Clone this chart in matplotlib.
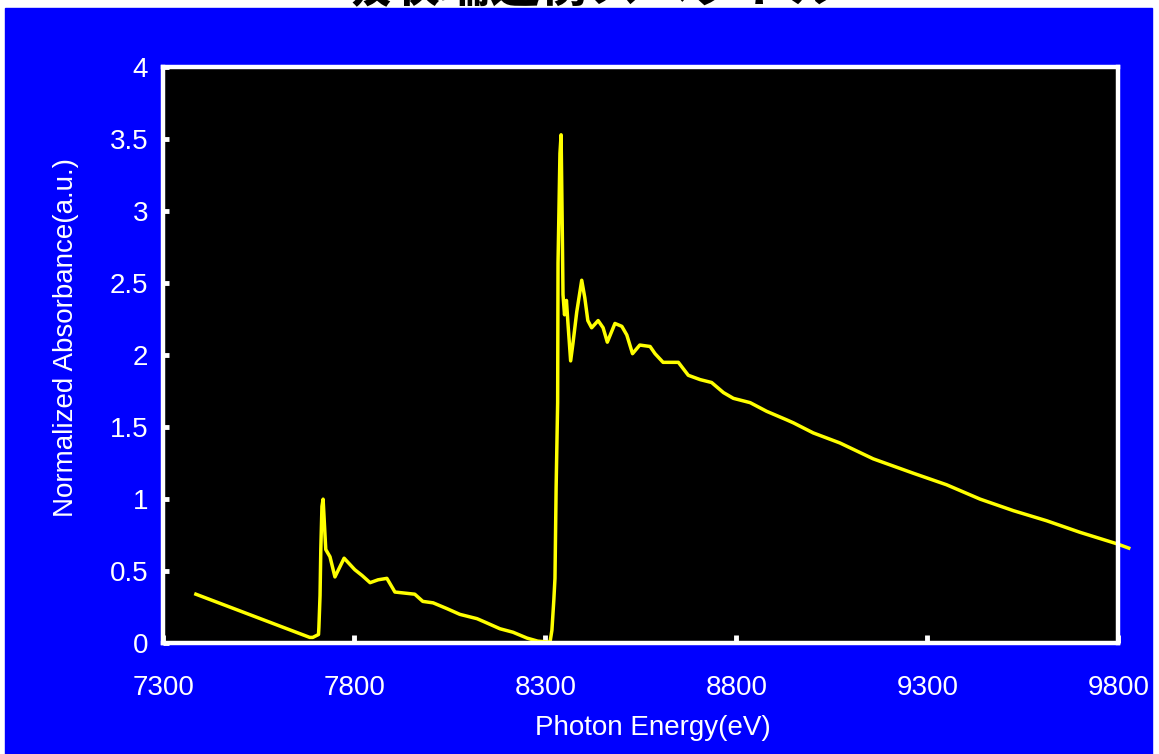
import numpy as np
import matplotlib
matplotlib.use('Agg')
import matplotlib.pyplot as plt
from matplotlib.patches import Rectangle
from matplotlib.ticker import FormatStrFormatter

# spectrum
energy = [7385, 7683, 7691, 7706, 7707, 7710, 7712, 7715, 7718,
          7725, 7736, 7749, 7773, 7801, 7820, 7841, 7862, 7885, 7906,
          7958, 7979, 8006, 8042, 8076, 8121, 8147, 8181, 8215, 8252,
          8280, 8312, 8317, 8322, 8325, 8328, 8332, 8333, 8338, 8341,
          8344, 8346, 8350, 8355, 8359, 8366, 8372, 8382, 8395, 8403,
          8411, 8421, 8438, 8451, 8462, 8482, 8500, 8513, 8528, 8547,
          8574, 8587, 8608, 8648, 8674, 8705, 8735, 8766, 8792, 8836,
          8879, 8932, 8949, 9001, 9071, 9158, 9263, 9350, 9438, 9525,
          9612, 9699, 9796, 9827]
absorbance = [0.34, 0.04, 0.04, 0.06, 0.11, 0.33, 0.65, 0.95, 1.00,
              0.65, 0.60, 0.46, 0.59, 0.51, 0.47, 0.42, 0.44, 0.45, 0.355,
              0.34, 0.29, 0.28, 0.24, 0.20, 0.17, 0.14, 0.10, 0.076, 0.035,
              0.014, 0.007, 0.09, 0.30, 0.45, 1.08, 1.67, 2.64, 3.40, 3.53,
              2.90, 2.42, 2.28, 2.38, 2.22, 1.96, 2.08, 2.30, 2.52, 2.40,
              2.24, 2.19, 2.24, 2.19, 2.09, 2.22, 2.20, 2.14, 2.01, 2.07,
              2.06, 2.01, 1.95, 1.95, 1.86, 1.83, 1.81, 1.74, 1.70, 1.67,
              1.61, 1.55, 1.53, 1.46, 1.39, 1.28, 1.18, 1.10, 1.00, 0.92,
              0.85, 0.77, 0.69, 0.66]

x_ticks = [7300, 7800, 8300, 8800, 9300, 9800]
y_ticks = [0, 0.5, 1, 1.5, 2, 2.5, 3, 3.5, 4]

title = '吸収端近傍スペクトル'

plt.rcParams['font.family'] = ['Liberation Sans', 'DejaVu Sans']

fig = plt.figure(figsize=(11.59, 7.54), dpi=100, facecolor='white')
# blue slide background, behind the axes
fig.patches.append(Rectangle((0.0043, 0), 0.9896, 0.9894,
                             transform=fig.transFigure, color='#0000ff',
                             zorder=-5))
# slide title, cut off by the top edge as in the original
fig.text(0.51, 0.9965, title, color='black', fontsize=36, ha='center',
         va='baseline', fontweight='bold', zorder=-4,
         family=['Noto Sans CJK JP', 'DejaVu Sans'])

ax = fig.add_axes([0.141, 0.147, 0.824, 0.764])
ax.set_zorder(2)
ax.set_facecolor('black')
ax.plot(energy, absorbance, color='#ffff00', linewidth=2.5, clip_on=False)

ax.set_xlim(7300, 9800)
ax.set_ylim(0, 4)
ax.set_xticks(x_ticks)
ax.set_yticks(y_ticks)
ax.yaxis.set_major_formatter(FormatStrFormatter('%g'))

for side in ['left', 'right', 'top', 'bottom']:
    ax.spines[side].set_color('white')
    ax.spines[side].set_linewidth(3.2)

ax.tick_params(axis='x', direction='in', length=6, width=3.5,
               colors='white', labelsize=20, pad=23)
ax.tick_params(axis='y', direction='in', length=4, width=3.5,
               colors='white', labelsize=20, pad=11)

ax.set_xlabel('Photon Energy(eV)', color='white', fontsize=20)
ax.set_ylabel('Normalized Absorbance(a.u.)', color='white', fontsize=20)
ax.xaxis.set_label_coords(0.512, -0.125)
ax.yaxis.set_label_coords(-0.088, 0.53)

fig.savefig('out.png', dpi=100, facecolor=fig.get_facecolor())
